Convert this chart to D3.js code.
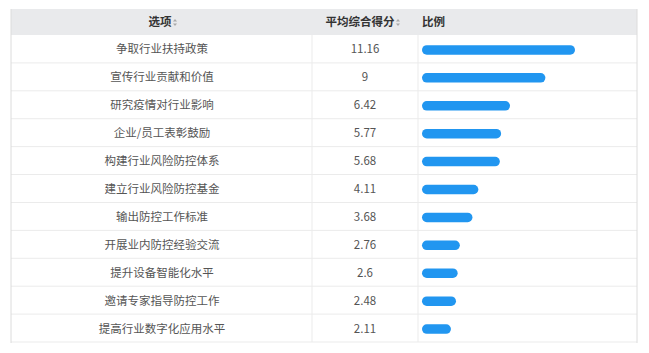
<!DOCTYPE html>
<html><head><meta charset="utf-8">
<script src="https://cdn.jsdelivr.net/npm/d3@7"></script>
<style>
html,body{margin:0;padding:0;background:#fff;}
svg{display:block;}
text{font-family:"Noto Sans CJK SC","Noto Sans",sans-serif;}
</style></head>
<body>
<svg id="chart" width="649" height="353"></svg>
<script>
const headers = ["选项", "平均综合得分", "比例"];
const options = ["争取行业扶持政策","宣传行业贡献和价值","研究疫情对行业影响","企业/员工表彰鼓励","构建行业风险防控体系","建立行业风险防控基金","输出防控工作标准","开展业内防控经验交流","提升设备智能化水平","邀请专家指导防控工作","提高行业数字化应用水平"];
const scores = [11.16, 9, 6.42, 5.77, 5.68, 4.11, 3.68, 2.76, 2.6, 2.48, 2.11];
const scoreLabels = ["11.16","9","6.42","5.77","5.68","4.11","3.68","2.76","2.6","2.48","2.11"];

(function () {
const svg = d3.select("#chart");
const tLeft = 11, tRight = 637, tTop = 9, headH = 26, tBottom = 342;
const col1 = 312, col2 = 418;
const fs = 11.5;

const y = d3.scaleBand().domain(d3.range(options.length)).range([tTop + headH, tBottom]).padding(0);
const x = d3.scaleLinear().domain([0, d3.max(scores)]).range([422, 575]);

svg.append("rect").attr("x", tLeft).attr("y", tTop).attr("width", tRight - tLeft).attr("height", headH).attr("fill", "#e9eaec");

svg.selectAll("line.row").data(d3.range(options.length)).join("line")
  .attr("x1", tLeft).attr("x2", tRight)
  .attr("y1", i => y(i) + y.bandwidth()).attr("y2", i => y(i) + y.bandwidth())
  .attr("stroke", "#ebebeb").attr("stroke-width", 1);

[col1, col2].forEach(cx => {
  svg.append("line").attr("x1", cx).attr("x2", cx).attr("y1", tTop + headH).attr("y2", tBottom)
    .attr("stroke", "#ebebeb");
});
svg.append("line").attr("x1", tLeft).attr("x2", tLeft).attr("y1", tTop).attr("y2", tBottom + 1).attr("stroke", "#dcdcdc");
svg.append("line").attr("x1", tRight).attr("x2", tRight).attr("y1", tTop).attr("y2", tBottom + 1).attr("stroke", "#dcdcdc");

function sortIcon(g, px, py) {
  g.append("path").attr("d", `M${px},${py-1} l2,-2.5 l2,2.5 Z`).attr("fill", "#aaa");
  g.append("path").attr("d", `M${px},${py+1} l2,2.5 l2,-2.5 Z`).attr("fill", "#aaa");
}
const hy = tTop + headH / 2 + 4;
svg.append("text").attr("x", 160).attr("y", hy).attr("text-anchor", "middle")
  .attr("font-size", fs).attr("font-weight", "bold").attr("fill", "#333").text(headers[0]);
sortIcon(svg, 160 + 11.5 + 1.5, tTop + headH / 2 + 0.5);
svg.append("text").attr("x", 360).attr("y", hy).attr("text-anchor", "middle")
  .attr("font-size", fs).attr("font-weight", "bold").attr("fill", "#333").text(headers[1]);
sortIcon(svg, 360 + 34.5 + 1.5, tTop + headH / 2 + 0.5);
svg.append("text").attr("x", 422).attr("y", hy).attr("text-anchor", "start")
  .attr("font-size", fs).attr("font-weight", "bold").attr("fill", "#333").text(headers[2]);

svg.selectAll("text.opt").data(options).join("text").attr("class", "opt")
  .attr("x", 162).attr("y", (d, i) => y(i) + y.bandwidth() / 2 + 4.5)
  .attr("text-anchor", "middle").attr("font-size", fs).attr("fill", "#555").text(d => d);

svg.selectAll("text.score").data(scoreLabels).join("text").attr("class", "score")
  .attr("x", 365).attr("y", (d, i) => y(i) + y.bandwidth() / 2 + 4.5)
  .attr("text-anchor", "middle").attr("font-size", fs).attr("fill", "#555").text(d => d);

const bh = 9.5;
svg.selectAll("rect.bar").data(scores).join("rect").attr("class", "bar")
  .attr("x", x(0)).attr("y", (d, i) => y(i) + y.bandwidth() / 2 + 1 - bh / 2)
  .attr("width", d => x(d) - x(0)).attr("height", bh)
  .attr("rx", bh / 2).attr("ry", bh / 2).attr("fill", "#2196f0");
})();
</script>
</body></html>
